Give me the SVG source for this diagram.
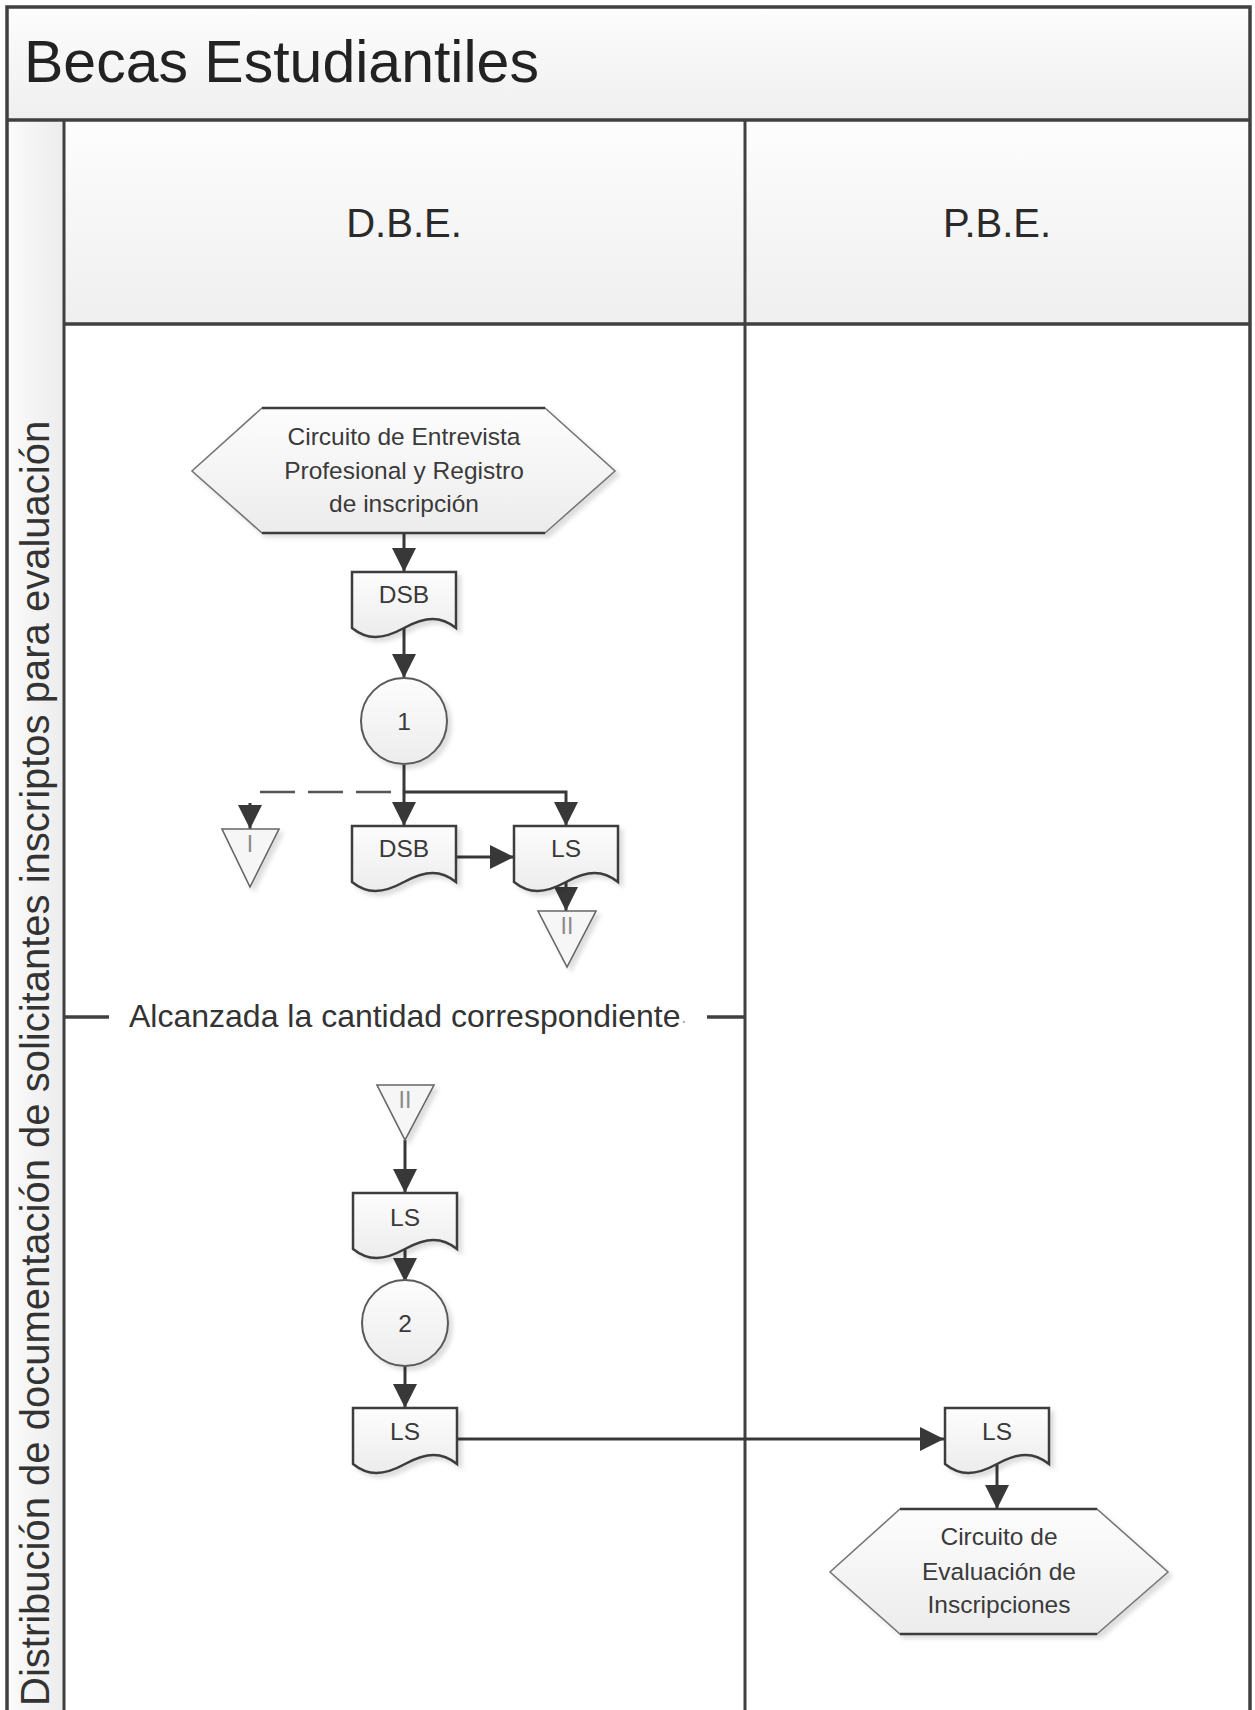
<svg xmlns="http://www.w3.org/2000/svg" width="1255" height="1710" viewBox="0 0 1255 1710">
  <defs>
    <linearGradient id="gHead" x1="0" y1="0" x2="0" y2="1">
      <stop offset="0" stop-color="#fdfdfd"/>
      <stop offset="1" stop-color="#efefef"/>
    </linearGradient>
    <linearGradient id="gSide" x1="0" y1="0" x2="1" y2="0">
      <stop offset="0" stop-color="#fbfbfb"/>
      <stop offset="1" stop-color="#ececec"/>
    </linearGradient>
    <linearGradient id="gShape" x1="0" y1="0" x2="0" y2="1">
      <stop offset="0" stop-color="#fdfdfd"/>
      <stop offset="1" stop-color="#ececec"/>
    </linearGradient>
    <filter id="shadow" x="-20%" y="-20%" width="150%" height="150%">
      <feDropShadow dx="4" dy="4" stdDeviation="2" flood-color="#000" flood-opacity="0.13"/>
    </filter>
    <marker id="arrow" markerUnits="userSpaceOnUse" viewBox="0 0 24 24" markerWidth="24" markerHeight="24" refX="24" refY="12" orient="auto">
      <path d="M0,0 L24,12 L0,24 Z" fill="#383838"/>
    </marker>
    <path id="doc" d="M0,0 H104 V56 C89,44 74,44 52,56 S15,68 0,56 Z"/>
  </defs>
  <style>
    .frame{stroke:#404040;stroke-width:3.5;fill:none}
    .thin{stroke:#404040;stroke-width:3;fill:none}
    .doc{fill:url(#gShape);stroke:#3c3c3c;stroke-width:2.5;filter:url(#shadow)}
    .circ{fill:url(#gShape);stroke:#5a5a5a;stroke-width:2;filter:url(#shadow)}
    .tri{fill:#f6f6f6;stroke:#666;stroke-width:1.6;filter:url(#shadow)}
    .hex{fill:url(#gShape);stroke:#777;stroke-width:1.6;filter:url(#shadow)}
    .hexedge{stroke:#3c3c3c;stroke-width:2.5}
    .lbl{font-family:"Liberation Sans",Arial,sans-serif;font-size:24.5px;fill:#3a3a3a;text-anchor:middle}
    .tlbl{font-family:"Liberation Sans",Arial,sans-serif;font-size:23px;fill:#8a8a8a;text-anchor:middle}
    .conn{stroke:#383838;stroke-width:3;fill:none}
    .dash{stroke:#555;stroke-width:2.5;fill:none;stroke-dasharray:35 13}
    .lane{font-family:"Liberation Sans",Arial,sans-serif;font-size:40px;fill:#2a2a2a;text-anchor:middle}
  </style>

  <!-- pool background -->
  <g id="pool">
    <rect x="7" y="7" width="1243" height="113" fill="url(#gHead)"/>
    <rect x="64" y="120" width="1186" height="204" fill="url(#gHead)"/>
    <rect x="7" y="120" width="57" height="1590" fill="url(#gSide)"/>
    <rect x="64" y="324" width="1186" height="1386" fill="#ffffff"/>
    <text x="24" y="82" font-family="Liberation Sans, Arial, sans-serif" font-size="59" fill="#222">Becas Estudiantiles</text>
    <text class="lane" x="404" y="237">D.B.E.</text>
    <text class="lane" x="997" y="237">P.B.E.</text>
    <text transform="translate(49,1706) rotate(-90)" font-family="Liberation Sans, Arial, sans-serif" font-size="40" fill="#333">Distribución de documentación de solicitantes inscriptos para evaluación</text>
    <path class="frame" d="M7,1710 V7 H1250 V1710"/>
    <path class="frame" d="M7,120 H1250"/>
    <path class="frame" d="M64,324 H1250"/>
    <path class="thin" d="M64,120 V1710"/>
    <path class="thin" d="M745,120 V1710"/>
    <!-- separator -->
    <path class="frame" d="M65,1017 H109 M707,1017 H745"/>
    <text x="129" y="1027" font-family="Liberation Sans, Arial, sans-serif" font-size="32" fill="#333">Alcanzada la cantidad correspondiente<tspan fill="#b0b0b0" font-size="20">·</tspan></text>
  </g>

  <!-- connectors -->
  <g id="connectors">
    <path class="conn" d="M404,533 V572" marker-end="url(#arrow)"/>
    <path class="conn" d="M404,622 V678" marker-end="url(#arrow)"/>
    <path class="conn" d="M404,765 V826" marker-end="url(#arrow)"/>
    <path class="conn" d="M404,792 H566 V826" marker-end="url(#arrow)"/>
    <path class="dash" d="M391,792 H252"/>
    <path class="conn" d="M250,803 V829" marker-end="url(#arrow)"/>
    <path class="conn" d="M456,857 H514" marker-end="url(#arrow)"/>
    <path class="conn" d="M566,870 V911" marker-end="url(#arrow)"/>
    <path class="conn" d="M405,1140 V1193" marker-end="url(#arrow)"/>
    <path class="conn" d="M405,1240 V1282" marker-end="url(#arrow)"/>
    <path class="conn" d="M405,1365 V1408" marker-end="url(#arrow)"/>
    <path class="conn" d="M457,1439 H944" marker-end="url(#arrow)"/>
    <path class="conn" d="M997,1455 V1509" marker-end="url(#arrow)"/>
  </g>

  <!-- nodes -->
  <g id="hex1">
    <polygon class="hex" points="262,408 545,408 615,471 545,533 262,533 192,471"/>
    <path class="hexedge" d="M262,408 H545 M262,533 H545"/>
    <text class="lbl" x="404" y="445">Circuito de Entrevista</text>
    <text class="lbl" x="404" y="479">Profesional y Registro</text>
    <text class="lbl" x="404" y="512">de inscripción</text>
  </g>
  <g id="dsb1">
    <use href="#doc" class="doc" x="352" y="572"/>
    <text class="lbl" x="404" y="603">DSB</text>
  </g>
  <g id="circle1">
    <circle class="circ" cx="404" cy="721" r="43"/>
    <text class="lbl" x="404" y="730">1</text>
  </g>
  <g id="triI">
    <polygon class="tri" points="222,829 279,829 250,887"/>
    <text class="tlbl" x="250" y="852">I</text>
  </g>
  <g id="dsb2">
    <use href="#doc" class="doc" x="352" y="826"/>
    <text class="lbl" x="404" y="857">DSB</text>
  </g>
  <g id="ls1">
    <use href="#doc" class="doc" x="514" y="826"/>
    <text class="lbl" x="566" y="857">LS</text>
  </g>
  <g id="triII1">
    <polygon class="tri" points="538,911 596,911 567,967"/>
    <text class="tlbl" x="567" y="934">II</text>
  </g>
  <g id="triII2">
    <polygon class="tri" points="377,1085 434,1085 405,1140"/>
    <text class="tlbl" x="405" y="1108">II</text>
  </g>
  <g id="ls2">
    <use href="#doc" class="doc" x="353" y="1193"/>
    <text class="lbl" x="405" y="1226">LS</text>
  </g>
  <g id="circle2">
    <circle class="circ" cx="405" cy="1323" r="43"/>
    <text class="lbl" x="405" y="1332">2</text>
  </g>
  <g id="ls3">
    <use href="#doc" class="doc" x="353" y="1408"/>
    <text class="lbl" x="405" y="1440">LS</text>
  </g>
  <g id="ls4">
    <use href="#doc" class="doc" x="945" y="1408"/>
    <text class="lbl" x="997" y="1440">LS</text>
  </g>
  <g id="hex2">
    <polygon class="hex" points="900,1509 1097,1509 1168,1572 1097,1634 900,1634 830,1572"/>
    <path class="hexedge" d="M900,1509 H1097 M900,1634 H1097"/>
    <text class="lbl" x="999" y="1545">Circuito de</text>
    <text class="lbl" x="999" y="1580">Evaluación de</text>
    <text class="lbl" x="999" y="1613">Inscripciones</text>
  </g>
</svg>
